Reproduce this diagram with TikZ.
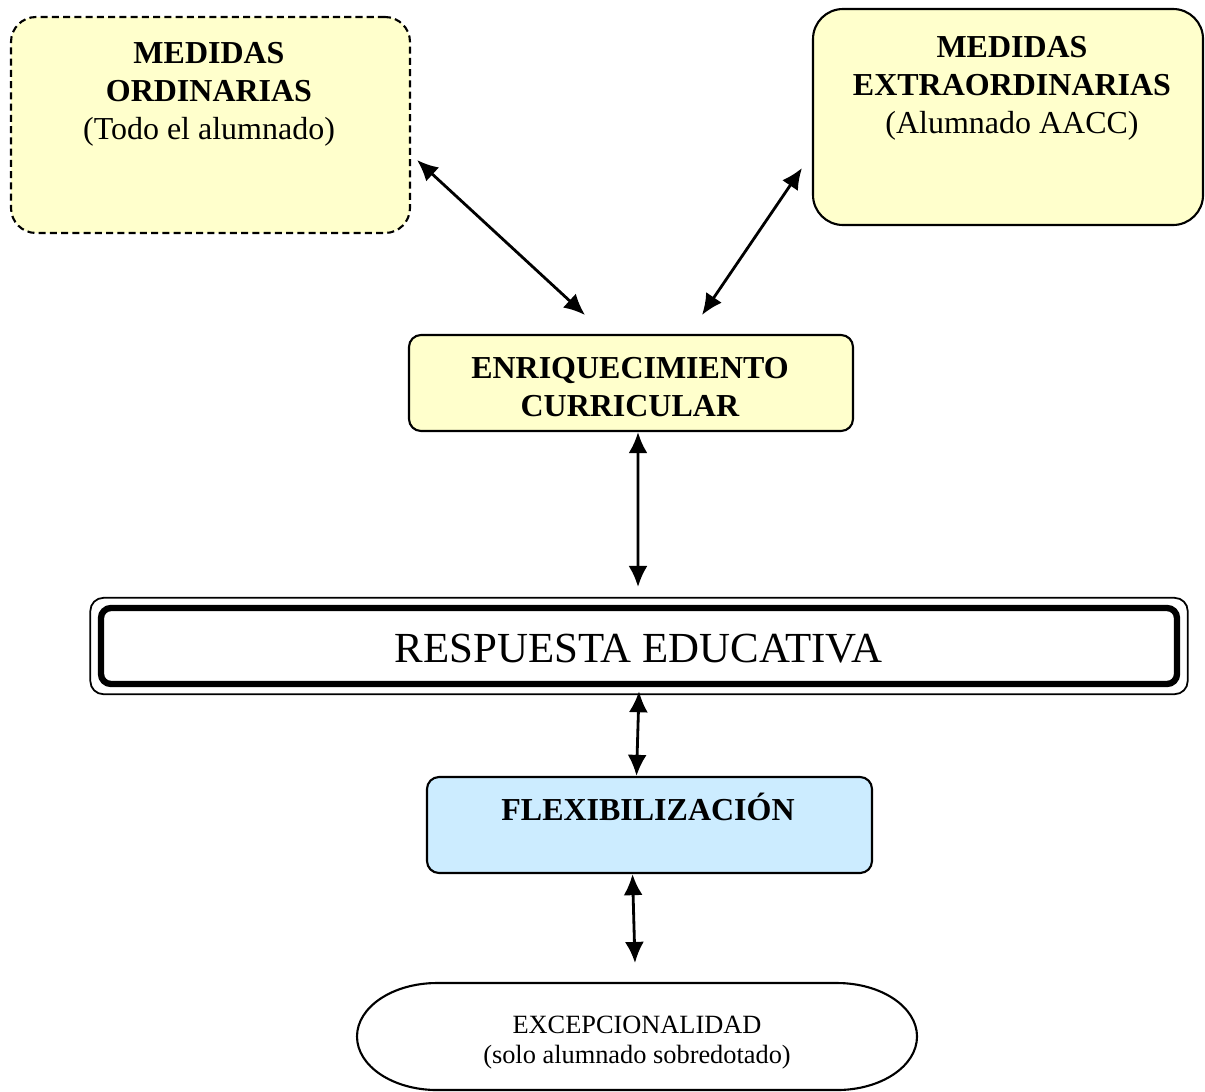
\documentclass[tikz,border=0pt]{standalone}
\usepackage{fontspec}
\setmainfont{Liberation Serif}
\usepackage{tikz}
\usetikzlibrary{arrows.meta}
\definecolor{amarillo}{HTML}{FFFFCC}
\definecolor{celeste}{HTML}{CCECFF}
\newcommand{\cajafont}{\fontsize{9.1}{10.8}\selectfont}

\begin{document}
\begin{tikzpicture}[>={Latex[length=6pt,width=5.4pt]},
	caja/.style = {draw, line width=0.6pt, rounded corners=0.12cm, inner sep=0},
	texto/.style = {align=center, inner sep=0, font=\cajafont},
	flecha/.style = {<->, line width=0.8pt}]
	\useasboundingbox (0,0) rectangle (12.05,-10.91);
	% cajas de arriba
	\node [caja, dashed, dash pattern=on 2pt off 1.2pt, fill=amarillo, rounded corners=0.25cm,
		minimum width=3.99cm, minimum height=2.16cm] (ord) at (2.105,-1.25) {};
	\node [texto, anchor=north] (ordtxt) at (2.09,-0.42) {\textbf{MEDIDAS}\\ \textbf{ORDINARIAS}\\ (Todo el alumnado)};
	\node [caja, fill=amarillo, rounded corners=0.3cm,
		minimum width=3.90cm, minimum height=2.16cm] (ext) at (10.08,-1.17) {};
	\node [texto, anchor=north] (exttxt) at (10.12,-0.36) {\textbf{MEDIDAS}\\ \textbf{EXTRAORDINARIAS}\\ (Alumnado AACC)};
	\node [caja, fill=amarillo, minimum width=4.44cm, minimum height=0.96cm] (enriq) at (6.31,-3.83) {};
	\node [texto] (enriqtxt) at (6.30,-3.87) {\textbf{ENRIQUECIMIENTO}\\ \textbf{CURRICULAR}};
	% respuesta educativa
	\node [draw, line width=1.8pt, rounded corners=0.1cm, minimum width=10.76cm, minimum height=0.76cm] (resp) at (6.39,-6.46) {};
	\draw [line width=0.5pt, rounded corners=0.13cm] ([shift={(-0.075,0.07)}]resp.north west) rectangle ([shift={(0.075,-0.07)}]resp.south east);
	\node [anchor=base, inner sep=0, font=\fontsize{12.2}{14}\selectfont] (resptxt) at (6.385,-6.62) {RESPUESTA EDUCATIVA};
	% flexibilizacion
	\node [caja, fill=celeste, minimum width=4.45cm, minimum height=0.96cm] (flex) at (6.495,-8.25) {};
	\node [texto, anchor=base] (flextxt) at (6.48,-8.20) {\textbf{FLEXIBILIZACIÓN}};
	% excepcionalidad
	\draw [line width=0.6pt] (4.37,-9.83) -- (8.37,-9.83)
		arc [start angle=90, end angle=-90, x radius=0.80, y radius=0.535]
		-- (4.37,-10.90) arc [start angle=270, end angle=90, x radius=0.80, y radius=0.535] -- cycle;
	\node [texto, anchor=north, font=\fontsize{7.5}{8.6}\selectfont] (exctxt) at (6.37,-10.15) {EXCEPCIONALIDAD\\ (solo alumnado sobredotado)};
	% flechas
	\coordinate (o1) at (4.17,-1.60);
	\coordinate (o2) at (5.85,-3.15);
	\coordinate (e1) at (8.02,-1.68);
	\coordinate (e2) at (7.02,-3.15);
	\coordinate (r1) at (6.38,-5.87);
	\coordinate (x1) at (6.35,-9.63);
	\draw [flecha] (o1) -- (o2);
	\draw [flecha] (e1) -- (e2);
	\draw [flecha] ([xshift=0.07cm]enriq.south) -- (r1);
	\draw [flecha] ([yshift=-0.04cm]resp.south) -- ([xshift=-0.13cm]flex.north);
	\draw [flecha] ([xshift=-0.17cm]flex.south) -- (x1);
\end{tikzpicture}
\end{document}
